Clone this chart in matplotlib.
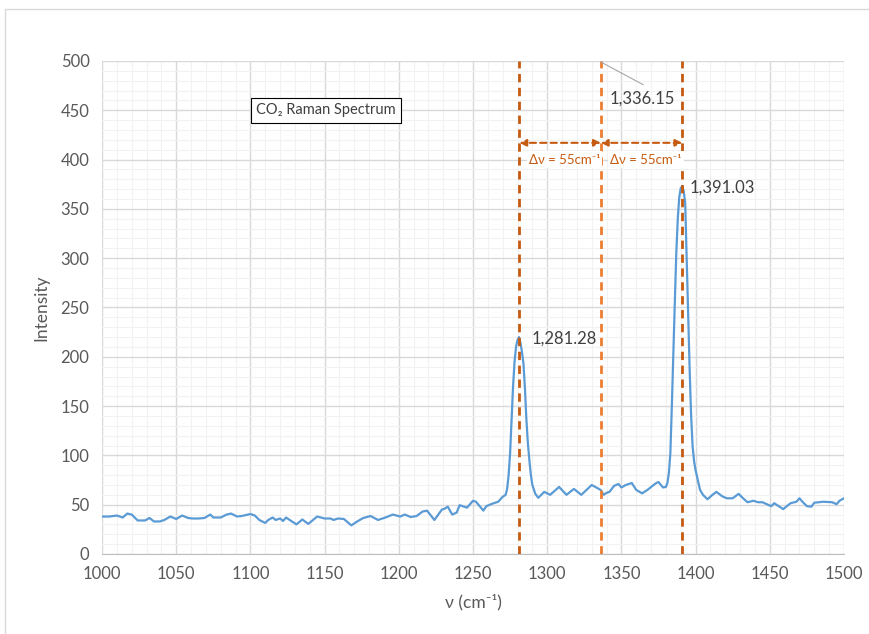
import numpy as np
import matplotlib
matplotlib.use('Agg')
import matplotlib.pyplot as plt
from matplotlib.patches import Rectangle
from matplotlib.ticker import MultipleLocator

plt.rcParams['font.family'] = ['Lato', 'DejaVu Sans']

# Спектр: волновое число (см^-1) и интенсивность
nu = [1000, 1005, 1010, 1014, 1017, 1020, 1024, 1029, 1032, 1035, 1039, 1042, 1046, 1050,
      1054, 1058, 1061, 1065, 1069, 1073, 1075, 1080, 1084, 1087, 1091, 1094, 1100, 1103,
      1106, 1110, 1112, 1115, 1117, 1120, 1122, 1124, 1127, 1131, 1135, 1139, 1145, 1150,
      1154, 1156, 1159, 1163, 1168, 1172, 1176, 1181, 1186, 1191, 1196, 1201, 1204, 1208,
      1212, 1216, 1219, 1224, 1229, 1231, 1233, 1236, 1239, 1241, 1246, 1250, 1252, 1257,
      1259, 1263, 1267, 1270, 1272, 1273, 1274, 1275, 1276, 1277, 1278, 1279, 1280, 1281,
      1282, 1283, 1284, 1285, 1286, 1287, 1288, 1289, 1290, 1292, 1294,
      1298, 1302, 1308, 1313, 1318, 1323, 1330, 1336, 1338, 1340, 1342, 1345, 1348, 1350,
      1353, 1357, 1360, 1364, 1368, 1373, 1375, 1378, 1380, 1381, 1382, 1383, 1384, 1385,
      1386, 1387, 1388, 1389, 1390, 1391, 1392, 1393, 1394, 1395, 1396, 1397, 1398, 1399,
      1400, 1403, 1405, 1408, 1411, 1414, 1418, 1421, 1425, 1429,
      1432, 1435, 1439, 1442, 1445, 1448, 1451, 1453, 1456, 1459, 1464, 1468, 1470, 1472,
      1475, 1478, 1480, 1486, 1492, 1495, 1497, 1500]
intensity = [38, 38, 39, 37, 41, 40, 34, 34, 36.5, 33, 33, 34.5, 38, 35.5,
             39, 36.5, 36, 36, 36.5, 40, 37, 37, 40, 41, 38, 38.5, 40.5, 39,
             34.5, 31.5, 34.5, 37, 34.5, 36, 33.5, 37, 34, 30, 35, 30.5, 38, 36,
             36, 34.5, 36, 35.5, 29, 33, 36.5, 38.5, 34.5, 37, 40, 38, 40, 37.5,
             38.5, 43, 44, 34.5, 45, 46, 48, 40, 42, 49.5, 47, 54, 53, 44,
             48.5, 51, 53, 58, 60, 66, 80, 102, 135, 170, 195, 210, 217, 220,
             214, 205, 193, 168, 136, 112, 95, 80, 70, 61, 57,
             63, 60, 68, 60, 66, 60, 70, 65, 60, 62, 63, 69, 71, 67.5,
             70, 72, 65, 61.5, 65.5, 71.5, 73, 67.5, 68, 72, 82, 102, 150, 203,
             255, 305, 340, 362, 371, 373, 368, 356, 300, 240, 187, 140, 109, 94,
             85, 65, 60, 55.5, 59.5, 63, 58.5, 56.5, 56.5, 61,
             56.5, 52.5, 54, 52.5, 52.5, 50.5, 48.5, 51.5, 48.5, 45.5, 51.5, 53, 56.5, 53,
             48.5, 48, 52, 53, 52.5, 50.5, 54, 56.5]

peak_1 = 1281.28
peak_2 = 1391.03
middle = 1336.15
delta_label = 'Δν = 55cm⁻¹'

grey = '#595959'
orange_dark = '#C55A11'
orange = '#ED7D31'

fig = plt.figure(figsize=(8.69, 6.34), dpi=100)
fig.patches.append(Rectangle((0.006, -0.1), 1.2, 1.0858, transform=fig.transFigure,
                             fill=False, edgecolor='#D9D9D9', linewidth=1))
ax = fig.add_axes([0.1174, 0.1262, 0.8538, 0.7776])

ax.plot(nu, intensity, color='#5B9BD5', linewidth=1.6, zorder=3)

ax.set_xlim(1000, 1500)
ax.set_ylim(0, 500)
ax.xaxis.set_major_locator(MultipleLocator(50))
ax.yaxis.set_major_locator(MultipleLocator(50))
ax.xaxis.set_minor_locator(MultipleLocator(10))
ax.yaxis.set_minor_locator(MultipleLocator(10))
ax.grid(which='major', color='#D9D9D9', linewidth=1, zorder=0)
ax.grid(which='minor', color='#F2F2F2', linewidth=0.8, zorder=0)
ax.set_axisbelow(True)
for side in ['top', 'right', 'left']:
    ax.spines[side].set_visible(False)
ax.spines['bottom'].set_color('#BFBFBF')
ax.tick_params(which='both', length=0, labelsize=12, labelcolor=grey)
ax.tick_params(axis='x', pad=9)
ax.tick_params(axis='y', pad=9)

ax.set_xlabel('ν (cm⁻¹)', fontsize=12.5, color=grey, labelpad=8)
ax.set_ylabel('Intensity', fontsize=12.5, color=grey, labelpad=8)

# Вертикальные пунктирные линии
for x, c in [(peak_1, orange_dark), (middle, orange), (peak_2, orange_dark)]:
    ax.axvline(x, color=c, linewidth=2, linestyle=(0, (3, 2)), zorder=4)

# Стрелки с Δν
arrow_y = 417
for a, b in [(peak_1, middle), (middle, peak_2)]:
    ax.annotate('', xy=(a, arrow_y), xytext=(b, arrow_y),
                arrowprops=dict(arrowstyle='<|-|>', color=orange_dark, linewidth=1.5,
                                linestyle=(0, (3, 2)), mutation_scale=10,
                                shrinkA=0, shrinkB=0), zorder=5)
    ax.text((a + b) / 2 + 3, 400, delta_label, color=orange_dark, fontsize=9.5,
            ha='center', va='center', zorder=5,
            bbox=dict(facecolor='white', edgecolor='none', pad=1.5))

# Подписи пиков
ax.text(peak_1 + 8.5, 218, '1,281.28', fontsize=12, color='#404040', va='center', zorder=5)
ax.text(peak_2 + 5, 372, '1,391.03', fontsize=12, color='#404040', va='center', zorder=5)
ax.text(middle + 6, 462, '1,336.15', fontsize=12, color='#404040', va='center', zorder=5)
ax.plot([middle, middle + 28.5], [499, 476], color='#A6A6A6', linewidth=0.8, zorder=5)

ax.text(1151, 450, 'CO₂ Raman Spectrum', fontsize=10.5, color='#404040',
        ha='center', va='center', zorder=5,
        bbox=dict(facecolor='white', edgecolor='black', linewidth=0.8, pad=4))

fig.savefig('out.png', dpi=100)
